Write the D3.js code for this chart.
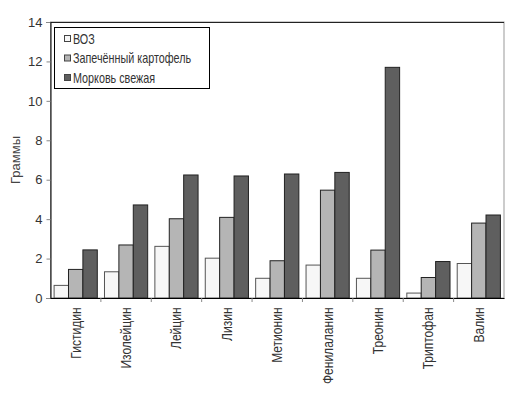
<!DOCTYPE html>
<html>
<head>
<meta charset="utf-8">
<script src="https://cdn.jsdelivr.net/npm/d3@7"></script>
<style>
body { margin: 0; background: #fff; }
text { font-family: "Liberation Sans", Arial, sans-serif; }
</style>
</head>
<body>
<script>
var width = 529;
var height = 395;

var categories = ["Гистидин", "Изолейцин", "Лейцин", "Лизин", "Метионин", "Фенилаланин", "Треонин", "Триптофан", "Валин"];
var seriesNames = ["ВОЗ", "Запечённый картофель", "Морковь свежая"];
var voz = [0.64, 1.33, 2.62, 2.02, 1.0, 1.67, 1.0, 0.25, 1.75];
var potato = [1.45, 2.69, 4.02, 4.09, 1.89, 5.47, 2.43, 1.04, 3.8];
var carrot = [2.44, 4.72, 6.24, 6.19, 6.29, 6.37, 11.7, 1.85, 4.21];
var yTicks = [0, 2, 4, 6, 8, 10, 12, 14];
var colors = ["#f7f7f7", "#b5b5b5", "#5f5f5f"];

var margin = {left: 50.5, right: 25, top: 22, bottom: 97};

var svg = d3.select("body").append("svg")
    .attr("width", width)
    .attr("height", height);

// group band, then sub band for the three series
var xg = d3.scaleBand()
    .domain(categories)
    .range([margin.left, width - margin.right]);
var xs = d3.scaleBand()
    .domain(d3.range(3))
    .range([0, xg.bandwidth()])
    .paddingOuter(0.25)
    .paddingInner(0);

var y = d3.scaleLinear()
    .domain([0, 14])
    .range([height - margin.bottom, margin.top]);

// plot border
svg.append("rect")
    .attr("x", margin.left)
    .attr("y", margin.top)
    .attr("width", width - margin.right - margin.left)
    .attr("height", height - margin.bottom - margin.top)
    .attr("fill", "none")
    .attr("stroke", "#999");
svg.append("line")
    .attr("x1", margin.left).attr("x2", width - margin.right)
    .attr("y1", margin.top + 0.5).attr("y2", margin.top + 0.5)
    .attr("stroke", "#222");

var data = [voz, potato, carrot];

var groups = svg.append("g").selectAll("g")
    .data(categories)
    .enter().append("g")
    .attr("transform", function(d) { return "translate(" + xg(d) + ",0)"; });

groups.selectAll("rect")
    .data(function(d, i) { return data.map(function(s, k) { return {k: k, v: s[i]}; }); })
    .enter().append("rect")
    .attr("x", function(d) { return xs(d.k); })
    .attr("y", function(d) { return y(d.v); })
    .attr("width", xs.bandwidth())
    .attr("height", function(d) { return y(0) - y(d.v); })
    .attr("fill", function(d) { return colors[d.k]; })
    .attr("stroke", function(d) { return d.k == 0 ? "#555" : "#222"; })
    .attr("stroke-width", 1);

// y axis
var yAxis = svg.append("g")
    .attr("transform", "translate(" + margin.left + ",0)")
    .call(d3.axisLeft(y).tickValues(yTicks).tickSize(4).tickPadding(4));
yAxis.select(".domain").attr("stroke", "#000");
yAxis.selectAll(".tick line").attr("stroke", "#888");
yAxis.selectAll("text").attr("font-size", 13).attr("fill", "#333")
    .style("font-family", "'Liberation Sans', Arial, sans-serif");

// x axis
var xAxis = svg.append("g")
    .attr("transform", "translate(0," + (height - margin.bottom) + ")")
    .call(d3.axisBottom(xg).tickSize(0).tickSizeOuter(0));
xAxis.select(".domain").attr("stroke", "#000");
xAxis.selectAll("text")
    .attr("font-size", 14)
    .attr("fill", "#333")
    .style("font-family", "'Liberation Sans', Arial, sans-serif")
    .attr("transform", "rotate(-90) scale(0.86,1)")
    .attr("text-anchor", "end")
    .attr("x", -11)
    .attr("y", 0)
    .attr("dy", "0.35em");

// category separators
svg.append("g").selectAll("line")
    .data(categories.slice(1))
    .enter().append("line")
    .attr("x1", function(d) { return xg(d); })
    .attr("x2", function(d) { return xg(d); })
    .attr("y1", y(0)).attr("y2", y(0) + 4)
    .attr("stroke", "#888");

// y label
svg.append("text")
    .attr("transform", "translate(20," + (y(7)) + ") rotate(-90)")
    .attr("text-anchor", "middle")
    .attr("font-size", 13)
    .attr("fill", "#444")
    .text("Граммы");

// legend
var legend = svg.append("g");
legend.append("rect")
    .attr("x", 54.5).attr("y", 27.5)
    .attr("width", 155).attr("height", 61)
    .attr("fill", "#fff")
    .attr("stroke", "#000");
var li = legend.selectAll("g.item")
    .data(seriesNames)
    .enter().append("g").attr("class", "item")
    .attr("transform", function(d, i) { return "translate(64," + (39 + i * 19.5) + ")"; });
li.append("rect")
    .attr("x", 0.5).attr("y", -3.5)
    .attr("width", 6).attr("height", 6)
    .attr("fill", function(d, i) { return colors[i]; })
    .attr("stroke", "#444");
li.append("text")
    .attr("transform", "translate(9,0) scale(0.77,1)")
    .attr("dy", "0.35em")
    .attr("font-size", 14)
    .attr("fill", "#333")
    .text(function(d) { return d; });
</script>
</body>
</html>
